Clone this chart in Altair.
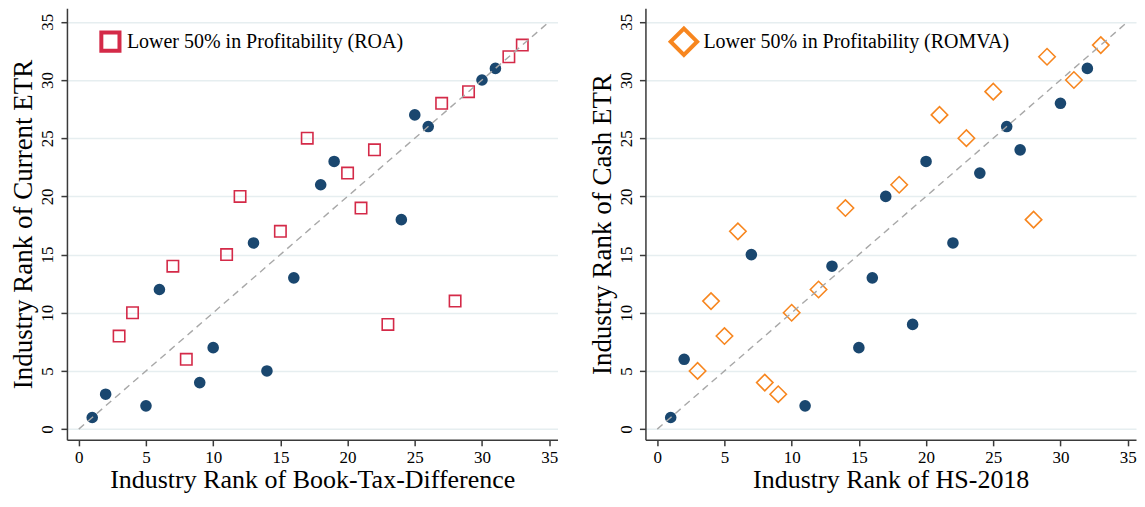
import altair as alt
import pandas as pd

# ---- data: left panel (ROA split) ----
roa_hi_x = [1, 2, 5, 6, 9, 10, 13, 14, 16, 18, 19, 24, 25, 26, 30, 31]
roa_hi_y = [1, 3, 2, 12, 4, 7, 16, 5, 13, 21, 23, 18, 27, 26, 30, 31]
roa_lo_x = [3, 4, 7, 8, 11, 12, 15, 17, 20, 21, 22, 23, 27, 28, 29, 32, 33]
roa_lo_y = [8, 10, 14, 6, 15, 20, 17, 25, 22, 19, 24, 9, 28, 11, 29, 32, 33]

# ---- data: right panel (ROMVA split) ----
romva_hi_x = [1, 2, 7, 11, 13, 15, 16, 17, 19, 20, 22, 24, 26, 27, 30, 32]
romva_hi_y = [1, 6, 15, 2, 14, 7, 13, 20, 9, 23, 16, 22, 26, 24, 28, 31]
romva_lo_x = [3, 4, 5, 6, 8, 9, 10, 12, 14, 18, 21, 23, 25, 28, 29, 31, 33]
romva_lo_y = [5, 11, 8, 17, 4, 3, 10, 12, 19, 21, 27, 25, 29, 18, 32, 30, 33]

diag = [0, 35]
tick_vals = [0, 5, 10, 15, 20, 25, 30, 35]

FONT = "Liberation Serif"
NAVY = "#1a476f"


def panel(hx, hy, lx, ly, xtitle, ytitle, label, shape, color, legcolor,
          size, legsize, legx, legy, laboff):
    xs = alt.Scale(domain=[-0.88, 35.62], nice=False, zero=False)
    ys = alt.Scale(domain=[-0.92, 36.17], nice=False, zero=False)
    xax = alt.Axis(values=tick_vals, grid=False, title=xtitle,
                   labelPadding=4, titlePadding=1, titleFontSize=26)
    yax = alt.Axis(values=tick_vals, grid=True, title=ytitle, labelAngle=270,
                   labelAlign="center", labelBaseline="bottom",
                   labelPadding=4, titlePadding=1, titleFontSize=27)
    hi = alt.Chart(pd.DataFrame({"x": hx, "y": hy})).mark_circle(
        size=135, color=NAVY, opacity=1
    ).encode(
        x=alt.X("x:Q", scale=xs, axis=xax),
        y=alt.Y("y:Q", scale=ys, axis=yax),
    )
    lo = alt.Chart(pd.DataFrame({"x": lx, "y": ly, "g": [label] * len(lx)})).mark_point(
        shape=shape, filled=False, strokeWidth=1.6, size=size, opacity=1
    ).encode(
        x="x:Q",
        y="y:Q",
        color=alt.Color(
            "g:N",
            scale=alt.Scale(range=[color]),
            legend=alt.Legend(
                orient="none", legendX=legx, legendY=legy, title=None,
                symbolType=shape, symbolSize=legsize, symbolStrokeWidth=4,
                symbolStrokeColor=legcolor, symbolFillColor="transparent",
                labelFont=FONT, labelFontSize=20, labelColor="black",
                labelOffset=laboff, labelLimit=0, padding=0,
            ),
        ),
    )
    line = alt.Chart(pd.DataFrame({"x": diag, "y": diag})).mark_line(
        color="#a8a8a8", strokeDash=[7, 5], strokeWidth=1.4
    ).encode(x="x:Q", y="y:Q")
    return alt.layer(hi, lo, line).properties(width=491, height=432)


left = panel(roa_hi_x, roa_hi_y, roa_lo_x, roa_lo_y,
             "Industry Rank of Book-Tax-Difference", "Industry Rank of Current ETR",
             "Lower 50% in Profitability (ROA)", "square", "#d42a48", "#c00000",
             130, 330, 32, 22, 5)
right = panel(romva_hi_x, romva_hi_y, romva_lo_x, romva_lo_y,
              "Industry Rank of HS-2018", "Industry Rank of Cash ETR",
              "Lower 50% in Profitability (ROMVA)", "diamond", "#f7861f", "#f7861f",
              270, 700, 23, 18, 4)

chart = alt.hconcat(left, right, spacing=30).resolve_scale(
    color="independent"
).resolve_legend(color="independent").properties(
    padding={"left": 2, "top": 0, "right": 0, "bottom": 0}
).configure_view(stroke=None).configure_axis(
    domainColor="#3a3a3a", domainWidth=1.5,
    tickColor="#3a3a3a", tickWidth=1.5, tickSize=6,
    labelFont=FONT, labelFontSize=17, labelColor="black",
    titleFont=FONT, titleFontWeight="normal", titleColor="black",
    gridColor="#e6eef0", gridWidth=1.5,
)

chart.save("out.html", embed_options={"renderer": "svg", "actions": False})
